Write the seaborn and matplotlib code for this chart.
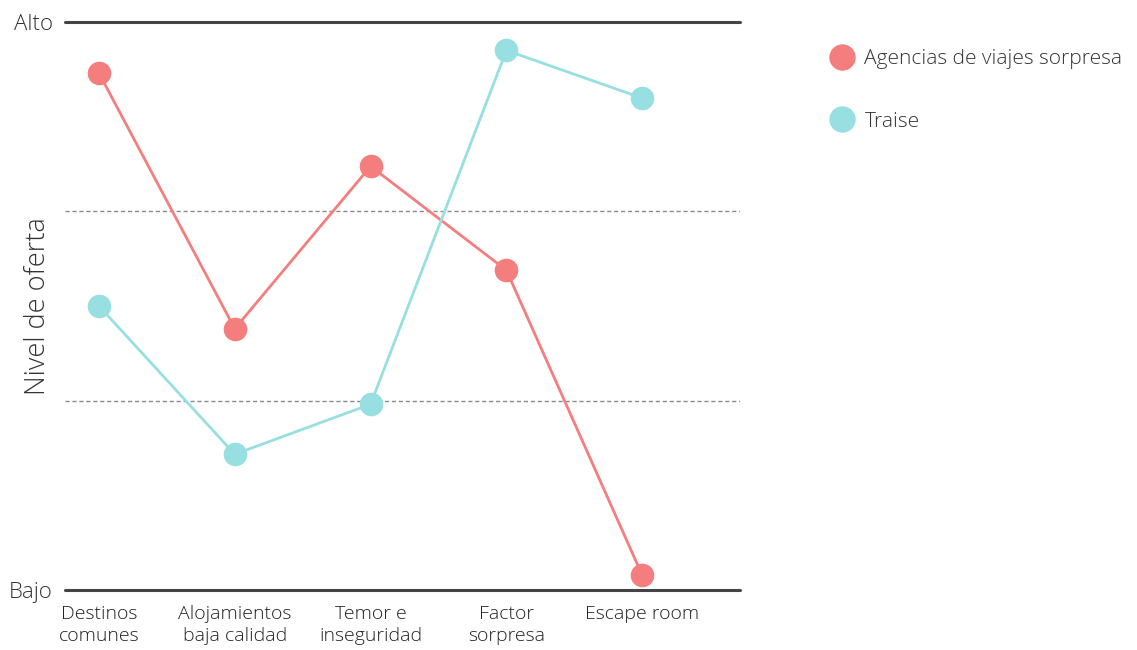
import matplotlib
matplotlib.use("Agg")
import matplotlib.pyplot as plt
from matplotlib.lines import Line2D
import seaborn as sns
import pandas as pd

categories = ["Destinos\ncomunes", "Alojamientos\nbaja calidad", "Temor e\ninseguridad",
              "Factor\nsorpresa", "Escape room"]
series_names = ["Agencias de viajes sorpresa", "Traise"]
agencias = [91, 46, 74.6, 56.3, 2.6]
traise = [50, 23.9, 32.7, 95, 86.6]
y_tick_labels = ["Bajo", "Alto"]
y_label = "Nivel de oferta"

colors = {"Agencias de viajes sorpresa": "#F47E7E", "Traise": "#97DFE0"}

df = pd.DataFrame({
    "categoria": categories * 2,
    "valor": agencias + traise,
    "serie": [series_names[0]] * len(categories) + [series_names[1]] * len(categories),
})

sns.set_theme(style="white")
plt.rcParams["font.family"] = ["Open Sans", "DejaVu Sans"]
plt.rcParams["font.weight"] = "light"

fig = plt.figure(figsize=(11.37, 6.5), dpi=100)
ax = fig.add_axes([65 / 1137, 60 / 650, 675 / 1137, 568 / 650])

sns.lineplot(data=df, x="categoria", y="valor", hue="serie", palette=colors,
             marker="o", markersize=17, markeredgewidth=0, linewidth=2.0,
             sort=False, legend=False, ax=ax)

ax.set_ylim(0, 100)
ax.set_xlim(-0.25, 4.72)
for yv in (100 / 3, 200 / 3):
    ax.axhline(yv, color="#8a8a8a", linestyle=(0, (3, 2)), linewidth=1.0, zorder=0)
for yv in (0, 100):
    ax.axhline(yv, color="#444444", linewidth=2.2, zorder=0, clip_on=False)

for s in ax.spines.values():
    s.set_visible(False)

ax.set_yticks([0, 100])
ax.set_yticklabels(y_tick_labels, fontsize=16, color="#333333", fontweight="light")
ax.tick_params(axis="y", length=0, pad=9)
ax.tick_params(axis="x", length=0, pad=11)
ax.set_xticks(range(len(categories)))
ax.set_xticklabels(categories, fontsize=14, color="#222222", linespacing=1.3,
                   fontweight="light")
ax.set_xlabel("")
ax.set_ylabel(y_label, fontsize=19.5, color="#333333", fontweight="light")
ax.yaxis.set_label_coords(-0.0196, 0.5)

handles = [Line2D([0], [0], marker="o", linestyle="none", markersize=19,
                  markerfacecolor=colors[n], markeredgewidth=0) for n in series_names]
fig.legend(handles, series_names, loc="upper left", bbox_to_anchor=(829 / 1137, 1 - 49 / 650),
           frameon=False, labelspacing=2.05, handletextpad=0.5,
           handlelength=1.2, labelcolor="#333333", borderaxespad=0, borderpad=0,
           prop={"weight": "light", "size": 15})

fig.savefig("out.png", dpi=100)
